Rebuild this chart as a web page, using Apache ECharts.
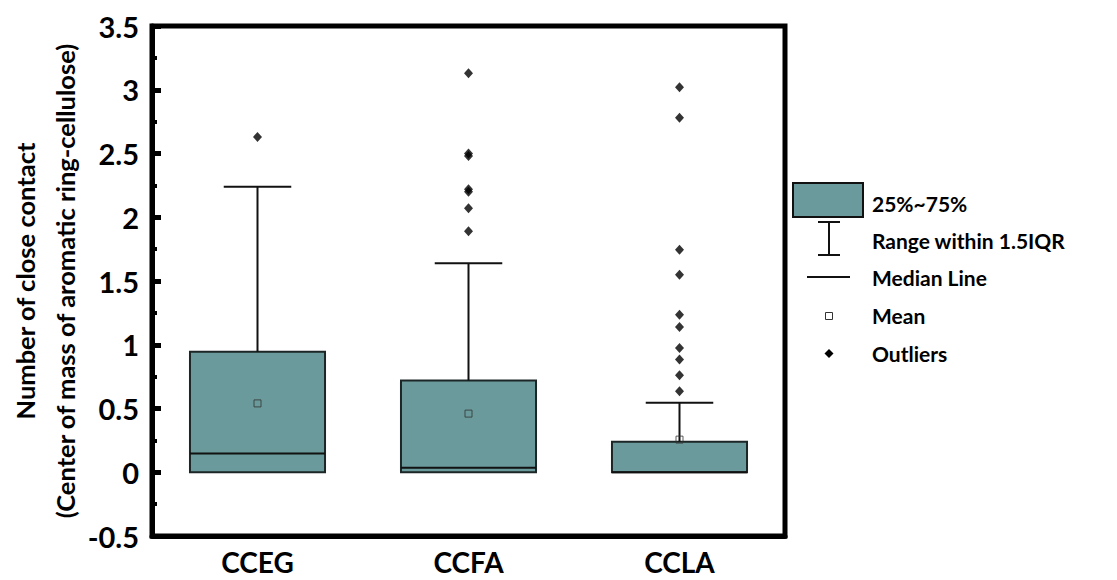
<!DOCTYPE html>
<html>
<head>
<meta charset="utf-8">
<script src="https://cdn.jsdelivr.net/npm/echarts@6/dist/echarts.min.js"></script>
<style>
html,body{margin:0;padding:0;background:#fff;}
#chart{width:1117px;height:580px;}
</style>
</head>
<body>
<div id="chart"></div>
<script>
var categories = ['CCEG', 'CCFA', 'CCLA'];
var q1 = [0, 0, 0];
var q3 = [0.945, 0.72, 0.24];
var median = [0.147, 0.035, 0];
var mean = [0.54, 0.46, 0.256];
var whiskerLow = [0, 0, 0];
var whiskerHigh = [2.24, 1.64, 0.545];
var outliersCCEG = [2.63];
var outliersCCFA = [3.13, 2.50, 2.48, 2.22, 2.20, 2.07, 1.89];
var outliersCCLA = [3.02, 2.78, 1.745, 1.55, 1.235, 1.14, 0.975, 0.885, 0.76, 0.635];
var yTicks = { min: -0.5, max: 3.5, interval: 0.5 };
var legendLabels = ['25%~75%', 'Range within 1.5IQR', 'Median Line', 'Mean', 'Outliers'];

var BOX_COLOR = '#6a9a9b';
var FONT = 'Lato';

var boxData = categories.map(function (c, i) { return [i, q1[i], q3[i], median[i]]; });
var whiskerData = categories.map(function (c, i) { return [i, q3[i], whiskerHigh[i], whiskerLow[i], q1[i]]; });
var meanData = categories.map(function (c, i) { return [i, mean[i]]; });
var outlierData = [];
[outliersCCEG, outliersCCFA, outliersCCLA].forEach(function (arr, i) {
  arr.forEach(function (v) { outlierData.push([i, v]); });
});

var chart = echarts.init(document.getElementById('chart'), null, { renderer: 'svg' });

function boxRender(params, api) {
  var idx = api.value(0);
  var lo = api.coord([idx, api.value(1)]);
  var hi = api.coord([idx, api.value(2)]);
  var med = api.coord([idx, api.value(3)]);
  var w = api.size([1, 0])[0] * 0.64;
  return {
    type: 'group',
    children: [
      { type: 'rect', shape: { x: lo[0] - w / 2, y: hi[1], width: w, height: lo[1] - hi[1] },
        style: { fill: BOX_COLOR, stroke: '#1c2626', lineWidth: 2 } },
      { type: 'line', shape: { x1: lo[0] - w / 2, y1: med[1], x2: lo[0] + w / 2, y2: med[1] },
        style: { stroke: '#111', lineWidth: 2 } }
    ]
  };
}

function whiskerRender(params, api) {
  var idx = api.value(0);
  var top = api.coord([idx, api.value(1)]);
  var hi = api.coord([idx, api.value(2)]);
  var w = api.size([1, 0])[0] * 0.32;
  return {
    type: 'group',
    children: [
      { type: 'line', shape: { x1: top[0], y1: top[1], x2: hi[0], y2: hi[1] }, style: { stroke: '#111', lineWidth: 2 } },
      { type: 'line', shape: { x1: hi[0] - w / 2, y1: hi[1], x2: hi[0] + w / 2, y2: hi[1] }, style: { stroke: '#111', lineWidth: 2 } }
    ]
  };
}

var lx = 829;
var tx = 872;
var legendGraphics = [
  { type: 'rect', shape: { x: 793, y: 183, width: 70, height: 34 }, style: { fill: BOX_COLOR, stroke: '#111', lineWidth: 2 } },
  { type: 'line', shape: { x1: lx, y1: 222, x2: lx, y2: 255 }, style: { stroke: '#111', lineWidth: 2 } },
  { type: 'line', shape: { x1: 818, y1: 222, x2: 840, y2: 222 }, style: { stroke: '#111', lineWidth: 2 } },
  { type: 'line', shape: { x1: 818, y1: 255, x2: 840, y2: 255 }, style: { stroke: '#111', lineWidth: 2 } },
  { type: 'line', shape: { x1: 807, y1: 277, x2: 850, y2: 277 }, style: { stroke: '#111', lineWidth: 2 } },
  { type: 'rect', shape: { x: lx - 3.5, y: 312.5, width: 7, height: 7 }, style: { fill: 'none', stroke: '#333', lineWidth: 1 } },
  { type: 'polygon', shape: { points: [[lx, 349], [lx + 4.5, 353.5], [lx, 358], [lx - 4.5, 353.5]] }, style: { fill: '#000' } }
];
var textYs = [203, 240, 277, 315, 353];
legendLabels.forEach(function (t, i) {
  legendGraphics.push({
    type: 'text', x: tx, y: textYs[i],
    style: { text: t, fontFamily: FONT, fontWeight: 'bold', fontSize: 21, fill: '#000', verticalAlign: 'middle', align: 'left' }
  });
});

chart.setOption({
  animation: false,
  backgroundColor: '#fff',
  grid: { left: 152, right: 332, top: 26, bottom: 44, show: true, borderColor: '#000', borderWidth: 5,
    backgroundColor: 'transparent', containLabel: false, outerBoundsMode: 'none' },
  xAxis: {
    type: 'category',
    data: categories,
    axisLine: { onZero: false, lineStyle: { color: '#000', width: 5 } },
    axisTick: { alignWithLabel: true, length: 9, lineStyle: { color: '#000', width: 5 } },
    axisLabel: { color: '#000', fontFamily: FONT, fontWeight: 'bold', fontSize: 28, margin: 12 }
  },
  yAxis: {
    type: 'value',
    min: yTicks.min, max: yTicks.max, interval: yTicks.interval,
    name: 'Number of close contact\n(Center of mass of aromatic ring-cellulose)',
    nameLocation: 'middle',
    nameGap: 67,
    nameMoveOverlap: false,
    nameTextStyle: { color: '#000', fontFamily: FONT, fontWeight: 'bold', fontSize: 25.5, lineHeight: 40 },
    axisLine: { show: true, onZero: false, lineStyle: { color: '#000', width: 5 } },
    axisTick: { show: true, inside: true, length: 9, lineStyle: { color: '#000', width: 5 } },
    minorTick: { show: true, splitNumber: 2, length: 5, lineStyle: { color: '#000', width: 4 } },
    splitLine: { show: false },
    axisLabel: { color: '#000', fontFamily: FONT, fontWeight: 'bold', fontSize: 29, margin: 13 }
  },
  graphic: legendGraphics,
  series: [
    { type: 'custom', name: '25%~75%', renderItem: boxRender, data: boxData, encode: { x: 0, y: [1, 2] }, z: 2 },
    { type: 'custom', name: 'Range within 1.5IQR', renderItem: whiskerRender, data: whiskerData, encode: { x: 0, y: [1, 2] }, z: 3 },
    { type: 'scatter', name: 'Mean', data: meanData, symbol: 'rect', symbolSize: 7,
      itemStyle: { color: 'rgba(0,0,0,0)', borderColor: '#333', borderWidth: 1 }, z: 4 },
    { type: 'scatter', name: 'Outliers', data: outlierData, symbol: 'diamond', symbolSize: [9, 10],
      itemStyle: { color: '#000' }, z: 5 }
  ]
});
</script>
</body>
</html>
